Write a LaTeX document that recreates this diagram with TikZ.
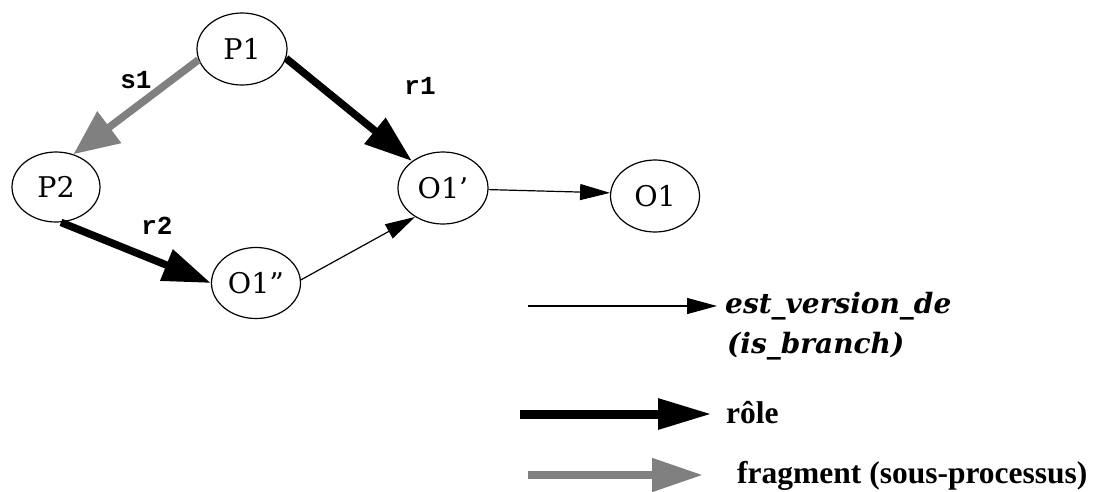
\documentclass[tikz,border=0pt]{standalone}
\usepackage{fontspec}
\usetikzlibrary{arrows.meta,shapes.geometric}
\newfontfamily\tnr{Liberation Serif}
\newfontfamily\cour{Liberation Mono}
\newfontfamily\dvs{DejaVu Serif}
\definecolor{fraggray}{RGB}{128,128,128}
\tikzset{
  state/.style={ellipse, draw, line width=1.2pt, minimum width=90pt, minimum height=72pt, inner sep=0pt, font=\dvs\fontsize{28.5}{30}\selectfont},
  thinedge/.style={line width=1.2pt, -{Triangle[length=30pt,width=16pt]}},
  roleedge/.style={line width=7.5pt, -{Triangle[length=48pt,width=32pt]}},
  fragedge/.style={draw=fraggray, line width=7.5pt, -{Triangle[length=45pt,width=38pt,fill=fraggray]}},
  elabel/.style={inner sep=0pt, font=\cour\bfseries\fontsize{26}{28}\selectfont},
  legitalic/.style={inner sep=0pt, anchor=base west, font=\dvs\bfseries\itshape\fontsize{28}{30}\selectfont},
  legbold/.style={inner sep=0pt, anchor=base west, font=\tnr\bfseries\fontsize{31.5}{34}\selectfont},
}
\begin{document}
\begin{tikzpicture}[x=1pt,y=-1pt]
\useasboundingbox (0,0) rectangle (1097,491);
% nodes
\node[state] (P1) at (242,49) {P1};
\node[state, minimum width=88pt, minimum height=70pt] (P2) at (56,187) {P2};
\node[state] (O1p) at (443,188) {O1’};
\node[state, minimum width=89pt] (O1) at (655,196) {O1};
\node[state, minimum width=89pt, minimum height=71pt] (O1pp) at (256,283) {O1”};
% edges
\draw[fragedge] (P1.-166) -- (P2.62);
\draw[roleedge] (P1.-12) -- (O1p.139);
\draw[roleedge] (P2.-82) -- (O1pp.180);
\draw[thinedge] (O1pp.4) -- (O1p.-134);
\draw[thinedge] (O1p.-2) -- (O1.176);
% edge labels
\node[elabel] (s1) at (136,80) {s1};
\node[elabel] (r1) at (420,86) {r1};
\node[elabel] (r2) at (157,226) {r2};
% legend
\coordinate (a1s) at (528,306);
\coordinate (a1e) at (717,306);
\draw[line width=1.2pt, -{Triangle[length=30pt,width=16pt]}] (a1s) -- (a1e);
\node[legitalic] (t1) at (725,313) {est\_version\_de};
\node[legitalic] (t2) at (727,353) {(is\_branch)};
\coordinate (a2s) at (520,414);
\coordinate (a2e) at (712,414);
\draw[line width=9pt, -{Triangle[length=54pt,width=29pt]}] (a2s) -- (a2e);
\node[legbold] (t3) at (726,423) {rôle};
\coordinate (a3s) at (528,475);
\coordinate (a3e) at (703,475);
\draw[draw=fraggray, line width=8pt, -{Triangle[length=51pt,width=32pt,fill=fraggray]}] (a3s) -- (a3e);
\node[legbold] (t4) at (737,483) {fragment (sous-processus)};
\end{tikzpicture}
\end{document}
